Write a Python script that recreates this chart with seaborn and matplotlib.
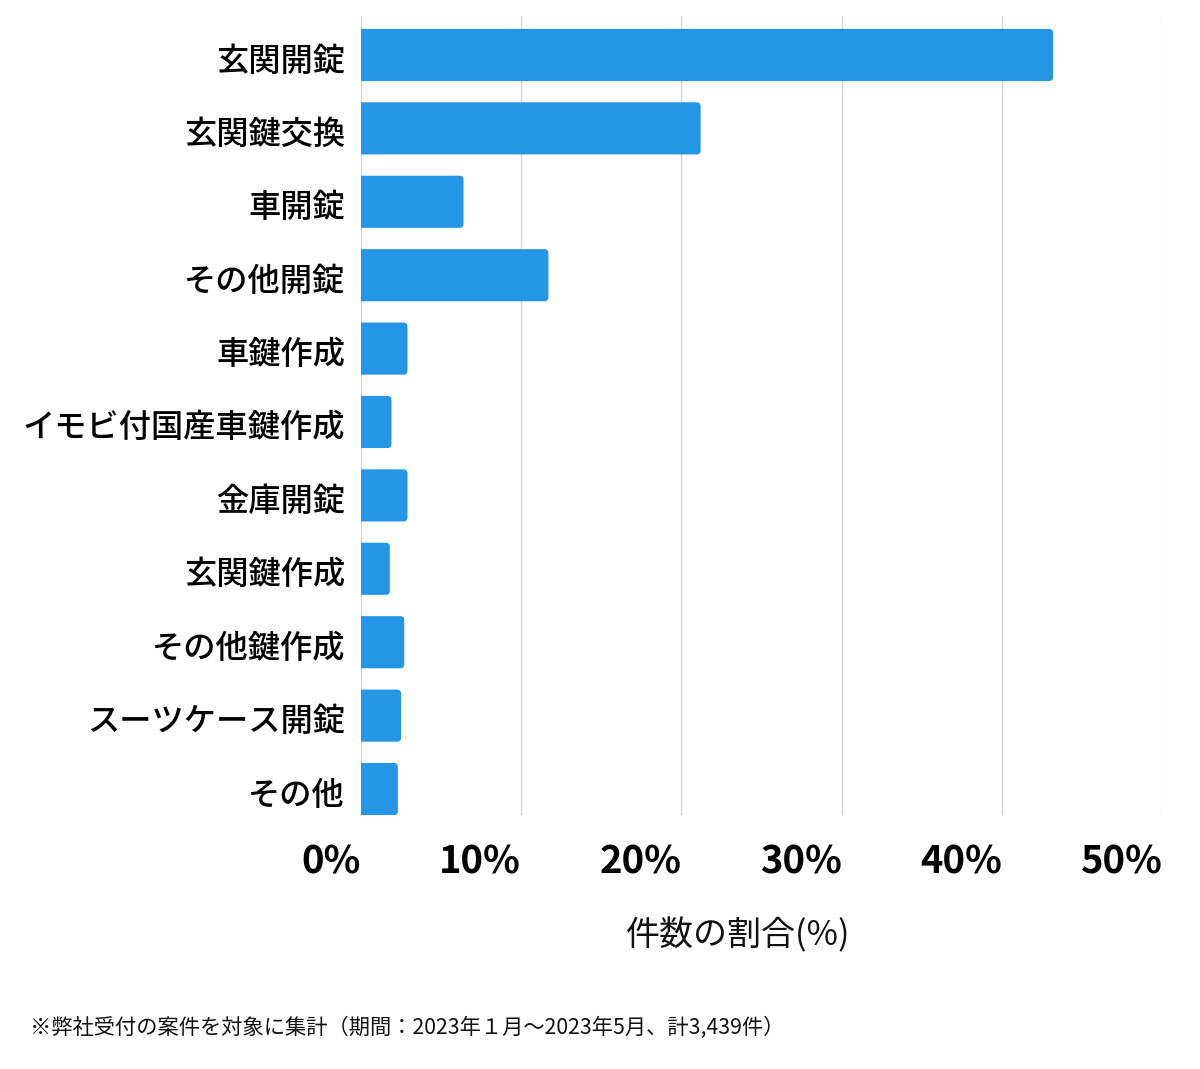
import matplotlib
matplotlib.use("Agg")
import matplotlib.pyplot as plt
import matplotlib.transforms as mtransforms
from matplotlib.patches import FancyBboxPatch
import seaborn as sns
import pandas as pd

categories = ["玄関開錠", "玄関鍵交換", "車開錠", "その他開錠", "車鍵作成",
              "イモビ付国産車鍵作成", "金庫開錠", "玄関鍵作成", "その他鍵作成",
              "スーツケース開錠", "その他"]
values = [43.2, 21.2, 6.4, 11.7, 2.9, 1.9, 2.9, 1.8, 2.7, 2.5, 2.3]
xticks = [0, 10, 20, 30, 40, 50]
xtick_labels = ["0%", "10%", "20%", "30%", "40%", "50%"]

sns.set_theme(style="white")
plt.rcParams['font.family'] = ['Noto Sans CJK JP', 'DejaVu Sans']

df = pd.DataFrame({"category": categories, "value": values})

fig = plt.figure(figsize=(12, 10.69), dpi=100)
ax = fig.add_axes([361/1200, 1 - 815/1069, (1162-361)/1200, (815-16)/1069])

BAR_COLOR = "#2596e6"
sns.barplot(data=df, x="value", y="category", color=BAR_COLOR, width=0.71,
            saturation=1, ax=ax, zorder=3)

ax.set_xlim(0, 50)
ax.set_ylim(10.354, -0.531)

# round the bar ends (left side clipped by the axes)
for p in list(ax.patches):
    x0, y0 = p.get_x(), p.get_y()
    w, h = p.get_width(), p.get_height()
    p.remove()
    fb = FancyBboxPatch((x0 - 0.4, y0), w + 0.4, h,
                        boxstyle="round,pad=0,rounding_size=0.25",
                        mutation_aspect=0.218, facecolor=BAR_COLOR,
                        edgecolor="none", zorder=3)
    ax.add_patch(fb)

ax.set_xticks(xticks)
ax.set_xticklabels(xtick_labels, fontsize=27.5, fontweight="bold",
                   color="#000000", ha="right")
ax.tick_params(axis="x", length=0, pad=20)
ax.tick_params(axis="y", length=0, pad=11.5, labelsize=23.2, labelcolor="#000000")
offset = mtransforms.ScaledTranslation(0, -3/100, fig.dpi_scale_trans)
for lbl in ax.get_yticklabels():
    lbl.set_fontweight("medium")
    lbl.set_transform(lbl.get_transform() + offset)

ax.grid(axis="x", color="#d4d4d4", linewidth=1.0, zorder=0)
ax.grid(axis="y", visible=False)
for s in ax.spines.values():
    s.set_visible(False)
ax.set_xlabel("")
ax.set_ylabel("")

fig.text(738/1200, 1 - 936/1069, "件数の割合(%)", ha="center", va="center",
         fontsize=24.5, color="#111111")
fig.text(30/1200, 1 - 1028/1069,
         "※弊社受付の案件を対象に集計（期間：2023年１月〜2023年5月、計3,439件）",
         ha="left", va="center", fontsize=15.3, color="#111111")

fig.savefig("out.png", dpi=100)
